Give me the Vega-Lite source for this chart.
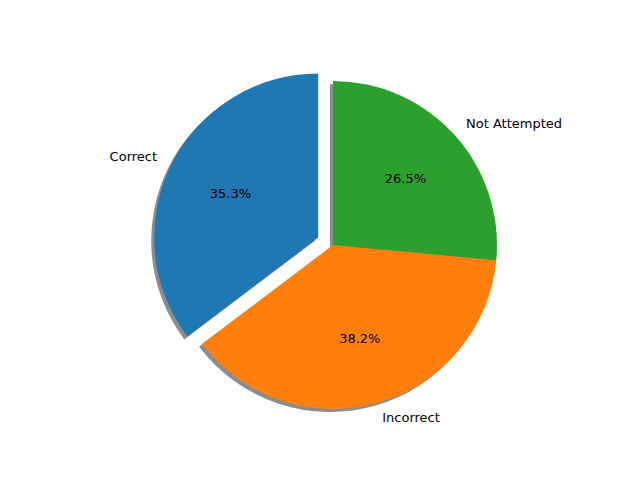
{
  "$schema": "https://vega.github.io/schema/vega-lite/v6.json",
  "width": 640,
  "height": 480,
  "autosize": "none",
  "padding": 0,
  "background": "white",
  "config": {"view": {"stroke": null}, "text": {"font": "DejaVu Sans", "fontSize": 13}},
  "data": {
    "values": [
      {"label": "Correct", "value": 12},
      {"label": "Incorrect", "value": 13},
      {"label": "Not Attempted", "value": 9}
    ]
  },
  "transform": [
    {"joinaggregate": [{"op": "sum", "field": "value", "as": "total"}]},
    {"calculate": "datum.value / datum.total", "as": "pct"},
    {"calculate": "indexof(['Not Attempted','Incorrect','Correct'], datum.label)", "as": "ord"}
  ],
  "encoding": {
    "theta": {"field": "value", "type": "quantitative", "stack": true},
    "order": {"field": "ord", "type": "quantitative"}
  },
  "layer": [
    {
      "mark": {"type": "arc", "outerRadius": 164, "xOffset": 10, "yOffset": 8, "fill": "#000000"},
      "encoding": {"fillOpacity": {"condition": {"test": "datum.label == 'Correct'", "value": 0}, "value": 0.45}}
    },
    {
      "mark": {"type": "arc", "outerRadius": 164, "xOffset": -4.8, "yOffset": 0.6, "fill": "#000000"},
      "encoding": {"fillOpacity": {"condition": {"test": "datum.label == 'Correct'", "value": 0.45}, "value": 0}}
    },
    {
      "mark": {"type": "arc", "outerRadius": 164, "xOffset": 13, "yOffset": 5},
      "encoding": {
        "color": {"field": "label", "type": "nominal", "legend": null,
          "scale": {"domain": ["Correct", "Incorrect", "Not Attempted"], "range": ["#1f77b4", "#ff7f0e", "#2ca02c"]}},
        "fillOpacity": {"condition": {"test": "datum.label == 'Correct'", "value": 0}, "value": 1}
      }
    },
    {
      "mark": {"type": "arc", "outerRadius": 164, "xOffset": -1.8, "yOffset": -2.4},
      "encoding": {
        "color": {"field": "label", "type": "nominal", "legend": null},
        "fillOpacity": {"condition": {"test": "datum.label == 'Correct'", "value": 1}, "value": 0}
      }
    },
    {
      "mark": {"type": "text", "radius": 180, "align": "left", "baseline": "middle", "xOffset": 13, "yOffset": 5},
      "encoding": {"text": {"condition": {"test": "datum.label != 'Correct'", "field": "label"}, "value": ""}}
    },
    {
      "mark": {"type": "text", "radius": 180, "align": "right", "baseline": "middle", "xOffset": -1.8, "yOffset": -2.4},
      "encoding": {"text": {"condition": {"test": "datum.label == 'Correct'", "field": "label"}, "value": ""}}
    },
    {
      "mark": {"type": "text", "radius": 98, "align": "center", "baseline": "middle", "xOffset": 13, "yOffset": 5},
      "encoding": {"text": {"condition": {"test": "datum.label != 'Correct'", "field": "pct", "format": ".1%"}, "value": ""}}
    },
    {
      "mark": {"type": "text", "radius": 98, "align": "center", "baseline": "middle", "xOffset": -1.8, "yOffset": -2.4},
      "encoding": {"text": {"condition": {"test": "datum.label == 'Correct'", "field": "pct", "format": ".1%"}, "value": ""}}
    }
  ]
}
